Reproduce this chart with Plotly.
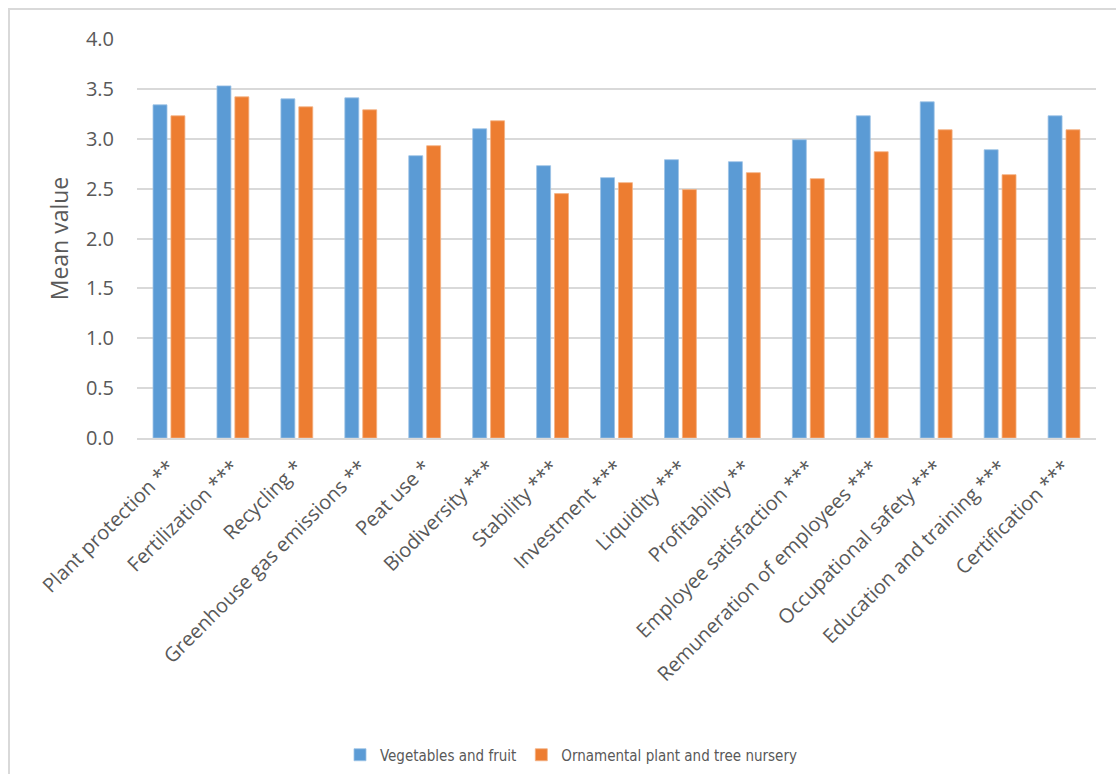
import plotly.graph_objects as go

categories = [
    "Plant protection **", "Fertilization ***", "Recycling *",
    "Greenhouse gas emissions **", "Peat use *", "Biodiversity ***",
    "Stability ***", "Investment ***", "Liquidity ***", "Profitability **",
    "Employee satisfaction ***", "Remuneration of employees ***",
    "Occupational safety ***", "Education and training ***", "Certification ***",
]
veg_fruit = [3.34, 3.53, 3.40, 3.41, 2.83, 3.10, 2.73, 2.61, 2.79, 2.77,
             2.99, 3.23, 3.37, 2.89, 3.23]
ornamental = [3.23, 3.42, 3.32, 3.29, 2.93, 3.18, 2.45, 2.56, 2.49, 2.66,
              2.60, 2.87, 3.09, 2.64, 3.09]
y_ticks = [0.0, 0.5, 1.0, 1.5, 2.0, 2.5, 3.0, 3.5, 4.0]

GRAY = "#595959"
GRID = "#D9D9D9"
FONT = "Open Sans, DejaVu Sans, sans-serif"
LEG_FONT = "DejaVu Sans Condensed, Liberation Sans Narrow, Liberation Sans, sans-serif"

fig = go.Figure()
fig.add_trace(go.Bar(x=categories, y=veg_fruit, name="Vegetables and fruit",
                     marker=dict(color="#5B9BD5", line=dict(color="#9DC3E6", width=0.8))))
fig.add_trace(go.Bar(x=categories, y=ornamental, name="Ornamental plant and tree nursery",
                     marker=dict(color="#ED7D31", line=dict(color="#F4B183", width=0.8))))

L, R, T, B = 137, 20, 39, 336
W, H = 1116, 774
pw, ph = W - L - R, H - T - B

fig.update_layout(
    width=W, height=H,
    margin=dict(l=L, r=R, t=T, b=B, autoexpand=False),
    paper_bgcolor="white", plot_bgcolor="white",
    barmode="group", bargap=0.44, bargroupgap=0.22,
    font=dict(family=FONT, color=GRAY),
    showlegend=True,
    legend=dict(orientation="h", x=(340 - L) / pw, xanchor="left",
                y=(T + ph - 755) / ph, yanchor="middle",
                font=dict(family=LEG_FONT, size=15, color=GRAY),
                itemwidth=30, traceorder="normal"),
    xaxis=dict(tickangle=-45, tickfont=dict(size=20, color=GRAY, family=FONT),
               showgrid=False, showline=True, linecolor=GRID, linewidth=1.5,
               ticks="", ticklabelstandoff=8, automargin=False),
    yaxis=dict(range=[0, 4.0], tickvals=y_ticks, ticktext=[f"{v:.1f}" for v in y_ticks],
               tickfont=dict(size=20, color=GRAY, family=FONT),
               showgrid=True, gridcolor=GRID, gridwidth=1.5, zeroline=False,
               showline=False, ticks="", ticklabelstandoff=22, automargin=False,
               title=dict(text="Mean value", font=dict(size=23, color=GRAY, family=FONT),
                          standoff=10)),
)

# outer chart border (cropped frame)
fig.add_shape(type="rect", xref="paper", yref="paper",
              x0=(9 - L) / pw, x1=(W + 20 - L) / pw,
              y0=(T + ph - (H + 20)) / ph, y1=(T + ph - 9) / ph,
              line=dict(color=GRID, width=2), fillcolor="rgba(0,0,0,0)", layer="below")

fig.write_html("out.html")
